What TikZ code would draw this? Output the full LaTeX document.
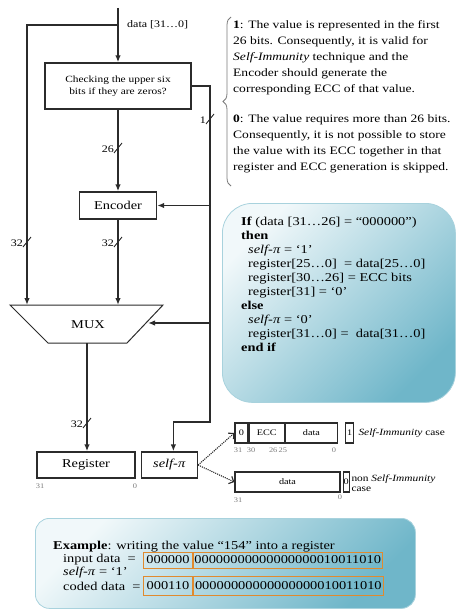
\documentclass[tikz,border=0pt]{standalone}
\usepackage{fontspec}
\setmainfont{Liberation Serif}[FakeStretch=1.2]
\usetikzlibrary{positioning,arrows.meta,decorations.pathreplacing}
\definecolor{WireGray}{HTML}{2B2B2B}
\definecolor{PaleCyan}{HTML}{F1F8FA}
\definecolor{DeepCyan}{HTML}{6FB6C9}
\definecolor{CyanEdge}{HTML}{A8D2DD}
\definecolor{CodeOrange}{HTML}{E08A2E}
\definecolor{IndexGray}{HTML}{7A7A7A}

% bus width mark: x, y, label, name
\newcommand{\busmark}[4]{%
  \draw[wire,line width=0.9pt] (#1-4,#2+5) -- (#1+4,#2-5);
  \node[buslabel,anchor=east] (#4) at (#1-3,#2+1) {#3};}

\begin{document}
\begin{tikzpicture}[x=1pt,y=-1pt,
  every node/.style={font=\fontsize{12}{14}\selectfont},
  wire/.style={line width=1.4pt,WireGray},
  arr/.style={wire,-{Latex[length=7pt,width=5.5pt]}},
  blk/.style={draw=WireGray,line width=1.4pt,inner sep=0pt,minimum height=27pt},
  buslabel/.style={font=\fontsize{10}{12}\selectfont,inner sep=1pt},
  fld/.style={draw=WireGray,line width=1.2pt,inner sep=0pt,minimum height=20pt,font=\fontsize{8.5}{10}\selectfont},
  idx/.style={font=\fontsize{7}{8}\selectfont,text=IndexGray,inner sep=0pt},
  dotarr/.style={line width=1.1pt,WireGray,densely dotted,-{Straight Barb[length=4pt]}},
  softbox/.style={rounded corners=30pt,draw=CyanEdge,line width=0.8pt,left color=PaleCyan,right color=DeepCyan,shading angle=45},
  bitbox/.style={draw=CodeOrange,line width=0.9pt,inner sep=1pt,minimum height=16pt}]
  \useasboundingbox (0,0) rectangle (458,610);

  % datapath
  \coordinate (din) at (118,8);
  \coordinate (split) at (118,25);
  \node[font=\fontsize{10}{12}\selectfont,anchor=west,inner sep=0pt] (dlbl) at (127,25) {data [31\dots0]};
  \node[blk,minimum width=146pt,minimum height=46pt,align=center,font=\fontsize{9.5}{12}\selectfont] (check) at (118,86) {Checking the upper six\\bits if they are zeros?};
  \node[blk,minimum width=77pt] (enc) at (118,205.5) {Encoder};
  \draw[line width=1pt,WireGray] (10,305) -- (163,305) -- (127,343) -- (48,343) -- cycle;
  \node (mux) at (88,325) {MUX};
  \coordinate (muxL) at (27,305);
  \coordinate (muxM) at (118,305);
  \coordinate (muxR) at (148,323);
  \coordinate (muxO) at (87,343);
  \node[blk,minimum width=98pt,minimum height=26pt] (reg) at (86,465) {Register};
  \node[blk,minimum width=56pt,minimum height=26pt,right=5pt of reg] (spi) {\textit{self-π}};
  \node[idx] (r31) at (40,486) {31};
  \node[idx] (r0) at (135,486) {0};

  \coordinate (selEnc) at (210,205.5);
  \coordinate (selMux) at (210,323);
  \coordinate (selBot) at (210,422);
  \draw[arr] (din) -- (check.north);
  \draw[arr] (split) -| (muxL);
  \draw[arr] (check.south) -- (enc.north);
  \draw[arr] (enc.south) -- (muxM);
  \draw[arr] (muxO) -- (reg.north -| muxO);
  \draw[arr] (check.east) -| (selBot) -| ([xshift=4pt]spi.north);
  \draw[arr] (selEnc) -- (enc.east);
  \draw[arr] (selMux) -- (muxR);

  \busmark{27}{242}{32}{bw1}
  \busmark{118}{242}{32}{bw2}
  \busmark{118}{148}{26}{bw3}
  \busmark{87}{423}{32}{bw4}
  \busmark{210}{119}{1}{bw5}

  % explanation of the check bit
  \draw[decorate,decoration={brace,amplitude=8pt},line width=0.8pt,IndexGray] (231,186) -- (231,17);
  \node[anchor=north west,inner sep=0pt,align=left,font=\fontsize{11.3}{16}\selectfont] (note) at (233,20) {%
    \textbf{1}: The value is represented in the first\\
    26 bits. Consequently, it is valid for\\
    \textit{Self-Immunity} technique and the\\
    Encoder should generate the\\
    corresponding ECC of that value.\\[14pt]
    \textbf{0}: The value requires more than 26 bits.\\
    Consequently, it is not possible to store\\
    the value with its ECC together in that\\
    register and ECC generation is skipped.};

  % pseudo code
  \node[softbox,minimum width=233pt,minimum height=199pt,anchor=north west] (codebg) at (222,203) {};
  \node[anchor=north west,inner sep=0pt,align=left] (code) at (241,217) {%
    \textbf{If} (data [31\dots26] = ``000000'')\\
    \textbf{then}\\
    \hspace*{7pt}\textit{self-π} = `1'\\
    \hspace*{7pt}register[25\dots0]~~= data[25\dots0]\\
    \hspace*{7pt}register[30\dots26] = ECC bits\\
    \hspace*{7pt}register[31] = `0'\\
    \textbf{else}\\
    \hspace*{7pt}\textit{self-π} = `0'\\
    \hspace*{7pt}register[31\dots0] = ~data[31\dots0]\\
    \textbf{end if}};

  % register layouts
  \node[fld,minimum width=13pt] (imm0) at (241.5,433) {0};
  \node[fld,minimum width=35pt,right=0pt of imm0] (immecc) {ECC};
  \node[fld,minimum width=52pt,right=0pt of immecc] (immdat) {data};
  \node[fld,minimum width=8pt,right=7pt of immdat] (immbit) {1};
  \node[anchor=west,font=\fontsize{9.5}{11}\selectfont] (immtxt) at (355,433) {\textit{Self-Immunity} case};
  \node[idx] (i31) at (238,450) {31};
  \node[idx] (i30) at (251,450) {30};
  \node[idx] (i26) at (278,450) {26\,25};
  \node[idx] (i0) at (334,450) {0};
  \node[fld,minimum width=105pt] (nondat) at (287.5,482) {data};
  \node[fld,minimum width=6pt,right=2pt of nondat] (nonbit) {0};
  \node[anchor=west,align=left,font=\fontsize{9.5}{10.5}\selectfont] (nontxt) at (348,483) {non \textit{Self-Immunity}\\case};
  \node[idx] (n31) at (238,500) {31};
  \node[idx] (n0) at (340,497) {0};
  \draw[dotarr] (spi.east) -- (imm0.west);
  \draw[dotarr] (spi.east) -- (nondat.west);

  % worked example
  \node[softbox,rounded corners=14pt,minimum width=380pt,minimum height=90pt,anchor=north west] (exbg) at (35,518) {};
  \node[anchor=west,inner sep=0pt] (extitle) at (53,547) {\textbf{Example}: writing the value ``154'' into a register};
  \node[anchor=west,inner sep=0pt] (inlbl) at (63,560) {input data~~=};
  \node[bitbox,minimum width=49pt,anchor=west] (inhi) at (143,560) {000000};
  \node[bitbox,minimum width=188pt,right=0pt of inhi] (inlo) {00000000000000000010011010};
  \node[anchor=west,inner sep=0pt] (exspi) at (63,573) {\textit{self-π} = `1'};
  \node[anchor=west,inner sep=0pt] (cdlbl) at (63,586) {coded data~~=};
  \node[bitbox,minimum width=49pt,minimum height=19pt,anchor=west] (cdhi) at (143,586) {000110};
  \node[bitbox,minimum width=190pt,minimum height=19pt,right=0pt of cdhi] (cdlo) {00000000000000000010011010};
\end{tikzpicture}
\end{document}
